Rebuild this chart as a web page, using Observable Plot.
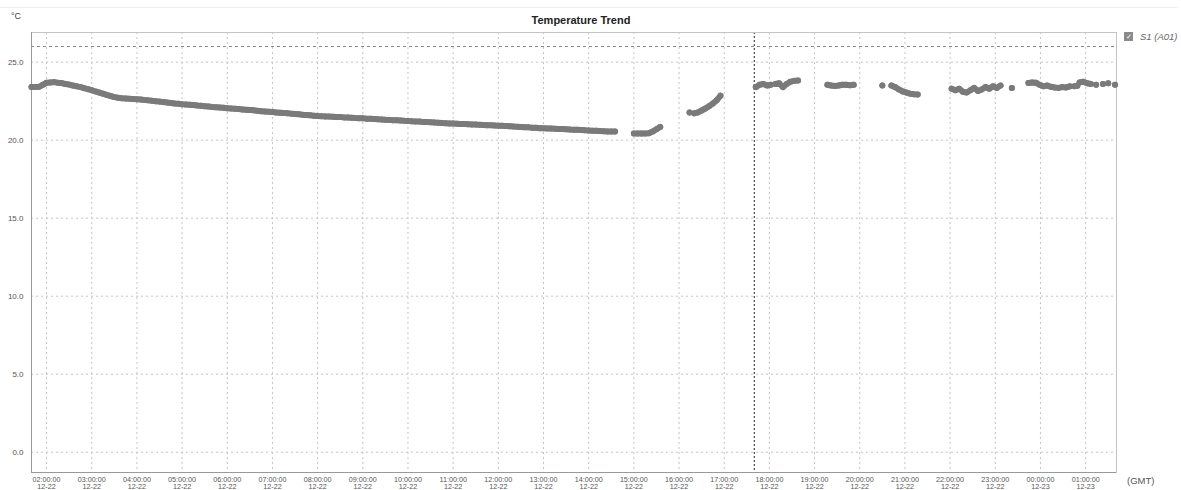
<!DOCTYPE html>
<html><head><meta charset="utf-8">
<script src="https://cdn.jsdelivr.net/npm/d3@7"></script>
<script src="https://cdn.jsdelivr.net/npm/@observablehq/plot@0.6"></script>
<style>
body{margin:0;background:#fff;font-family:"Liberation Sans",Arial,sans-serif;}
#wrap{position:relative;width:1181px;height:490px;overflow:hidden;background:#fff;}
#topline{position:absolute;left:0;top:7px;width:1178px;height:0;border-top:1px solid #f0f0f0;}
#title{position:absolute;left:581px;top:14px;transform:translateX(-50%);font-weight:bold;font-size:11px;color:#222;white-space:nowrap;}
#unit{position:absolute;left:11px;top:11px;font-size:9px;color:#444;}
#legend{position:absolute;left:1124px;top:31px;font-size:9.5px;color:#666;font-style:italic;white-space:nowrap;display:flex;align-items:center;}
#legend .box{width:9px;height:9px;background:#8a8a8a;color:#fff;font-size:7px;line-height:9px;text-align:center;font-style:normal;margin-right:7px;}
#gmt{position:absolute;left:1127px;top:475px;font-size:9.5px;color:#555;}
#chart{position:absolute;left:0;top:0;}
</style></head>
<body>
<div id="wrap">
  <div id="chart"></div>
  <div id="topline"></div>
  <div id="title">Temperature Trend</div>
  <div id="unit">°C</div>
  <div id="legend"><span class="box">✓</span><span>S1 (A01)</span></div>
  <div id="gmt">(GMT)</div>
</div>
<script>
// ---- data (°C), readings every 5 minutes from each segment start ----
const stepMinutes = 5;
const seg1Start = "2023-12-22T01:40Z";
const seg1Temps = [23.40,23.40,23.42,23.55,
 23.68,23.70,23.72,23.68,23.66,23.60,23.56,23.50,23.45,23.40,23.33,23.27,
 23.20,23.12,23.05,22.98,22.90,22.83,22.76,22.72,22.69,22.67,22.65,22.63,
 22.62,22.60,22.57,22.55,22.52,22.50,22.47,22.44,22.41,22.38,22.35,22.33,
 22.30,22.29,22.27,22.25,22.22,22.20,22.18,22.16,22.13,22.11,22.09,22.07,
 22.05,22.03,22.01,21.99,21.97,21.95,21.93,21.91,21.88,21.86,21.84,21.82,
 21.80,21.78,21.76,21.74,21.72,21.70,21.68,21.66,21.63,21.61,21.59,21.57,
 21.55,21.54,21.52,21.51,21.50,21.49,21.48,21.46,21.45,21.44,21.42,21.41,
 21.40,21.38,21.37,21.36,21.34,21.33,21.31,21.30,21.28,21.27,21.26,21.24,
 21.23,21.21,21.20,21.19,21.17,21.16,21.14,21.13,21.12,21.10,21.09,21.07,
 21.06,21.05,21.04,21.03,21.02,21.01,21.00,20.98,20.97,20.96,20.95,20.94,
 20.93,20.92,20.90,20.89,20.87,20.86,20.85,20.83,20.82,20.80,20.79,20.77,
 20.76,20.75,20.74,20.73,20.72,20.71,20.70,20.68,20.67,20.66,20.65,20.63,
 20.62,20.61,20.60,20.58,20.57,20.56,20.55,20.55];
const seg2Start = "2023-12-22T15:00Z";
const seg2Temps = [20.42,20.42,20.42,20.43,20.45,20.55,20.70,20.85];
const seg3Start = "2023-12-22T16:20Z";
const seg3Temps = [21.72,21.78,21.90,22.03,22.18,22.35,22.55,22.85];
const seg4Start = "2023-12-22T17:42Z";
const seg4Temps = [23.40,23.55,23.60,23.50,23.55];
const seg5Start = "2023-12-22T18:08Z";
const seg5Temps = [23.60,23.65,23.40,23.60,23.75,23.80,23.82];
const seg6Start = "2023-12-22T19:17Z";
const seg6Temps = [23.55,23.50,23.47,23.50,23.55,23.55,23.52,23.55];
const seg7Start = "2023-12-22T20:42Z";
const seg7Temps = [23.50,23.40,23.25,23.12,23.05,22.98,22.94,22.93];
const seg8Start = "2023-12-22T22:02Z";
const seg8Temps = [23.30,23.20,23.30,23.10,23.05,23.20,23.35,23.15,23.25,23.40,23.30,23.45,23.35,23.50];
const seg9Start = "2023-12-22T23:44Z";
const seg9Temps = [23.67,23.70,23.68,23.55,23.45,23.50,23.42,23.38,23.35,23.40,23.38,23.45];
const seg10Start = "2023-12-23T00:52Z";
const seg10Temps = [23.70,23.75,23.65,23.60];
const loneTimes = ["2023-12-22T16:14Z","2023-12-22T20:30Z","2023-12-22T23:22Z","2023-12-23T00:45Z","2023-12-23T00:49Z","2023-12-23T01:14Z","2023-12-23T01:23Z","2023-12-23T01:30Z","2023-12-23T01:39Z"];
const loneTemps = [21.77,23.50,23.35,23.45,23.48,23.55,23.60,23.65,23.55];

const yTicks = [0,5,10,15,20,25];
const thresholdHigh = 26;
const markerTime = "2023-12-22T17:40Z";
const xStart = "2023-12-22T01:40Z";
const xEnd = "2023-12-23T01:41Z";
const yMin = -1.3, yMax = 26.9;

// ---- build table ----
const segs = [[seg1Start,seg1Temps],[seg2Start,seg2Temps],[seg3Start,seg3Temps],[seg4Start,seg4Temps],
 [seg5Start,seg5Temps],[seg6Start,seg6Temps],[seg7Start,seg7Temps],[seg8Start,seg8Temps],
 [seg9Start,seg9Temps],[seg10Start,seg10Temps]];
const points = [];
segs.forEach(([s, temps], k) => {
  const t0 = new Date(s);
  temps.forEach((v, i) => points.push({seg: k, time: new Date(+t0 + i*stepMinutes*60000), temp: v}));
});
loneTimes.forEach((t, i) => points.push({seg: -1 - i, time: new Date(t), temp: loneTemps[i]}));

const x0 = new Date(xStart), x1 = new Date(xEnd);
const hourTicks = d3.utcHour.range(d3.utcHour.ceil(x0), x1);
const fT = d3.utcFormat("%H:%M:%S"), fD = d3.utcFormat("%m-%d");

const chart = Plot.plot({
  width: 1181, height: 490,
  marginLeft: 31, marginRight: 65, marginTop: 32, marginBottom: 18,
  x: {type: "utc", domain: [x0, x1]},
  y: {domain: [yMin, yMax]},
  style: {fontFamily: "'Liberation Sans', Arial, sans-serif", background: "transparent", overflow: "visible"},
  marks: [
    Plot.gridX(hourTicks, {stroke: "#c4c4c4", strokeOpacity: 1, strokeDasharray: "2,3"}),
    Plot.gridY(yTicks, {stroke: "#c4c4c4", strokeOpacity: 1, strokeDasharray: "2,3"}),
    Plot.ruleY([thresholdHigh], {stroke: "#888", strokeDasharray: "3,3", strokeWidth: 1.1}),
    Plot.ruleX([new Date(markerTime)], {stroke: "#555", strokeDasharray: "2,2", strokeWidth: 1.3}),
    Plot.frame({stroke: "#c4c4c4"}),
    Plot.ruleX([x0], {stroke: "#999"}),
    Plot.ruleY([yMin], {stroke: "#999"}),
    Plot.axisY(yTicks, {tickSize: 0, tickPadding: 8, tickFormat: d3.format(".1f"), fontSize: 8, color: "#555", label: null}),
    Plot.axisX(hourTicks, {tickSize: 0, tickPadding: 4, tickFormat: d => fT(d) + "\n" + fD(d), fontSize: 7.2, lineHeight: 1.0, color: "#555", label: null}),
    Plot.line(points, {x: "time", y: "temp", z: "seg", stroke: "#7a7a7a", strokeWidth: 6, strokeLinecap: "round", strokeLinejoin: "round"}),
    Plot.dot(points, {x: "time", y: "temp", r: 3, fill: "#7a7a7a", stroke: null})
  ]
});
document.getElementById("chart").appendChild(chart);
</script>
</body></html>
